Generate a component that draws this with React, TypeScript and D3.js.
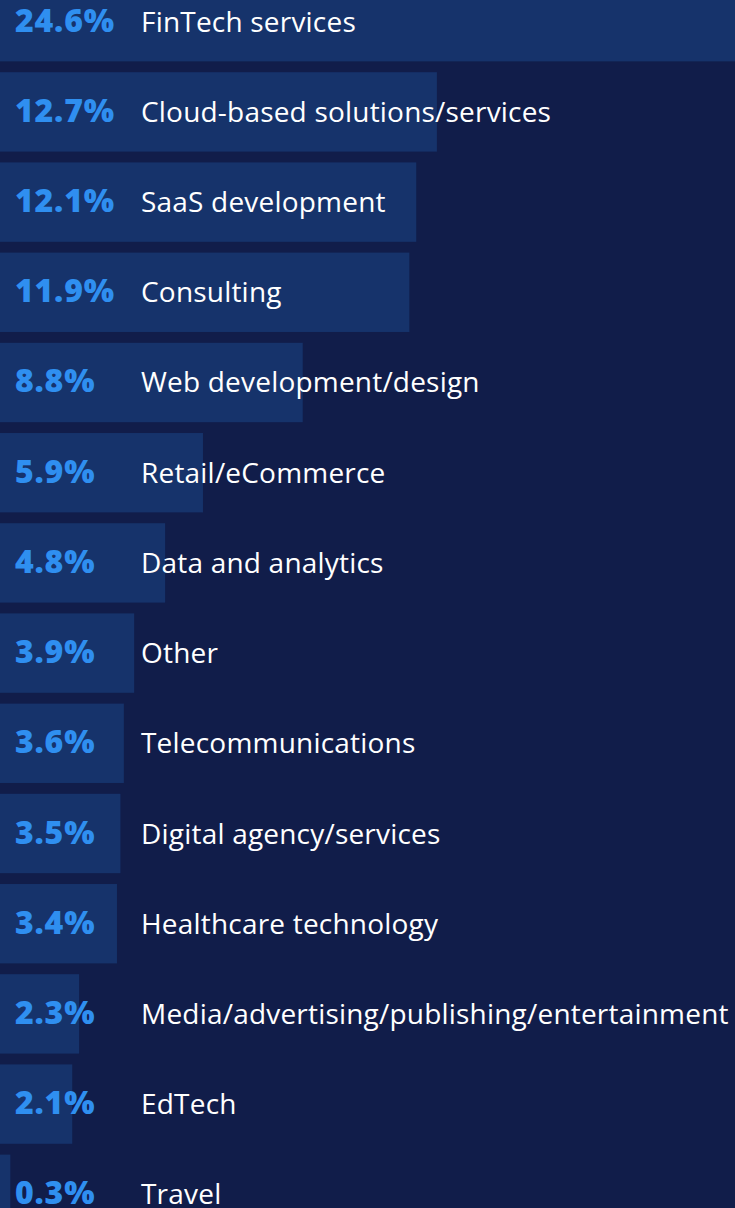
import React, { useEffect, useRef } from 'react';
import * as d3 from 'd3';

// categories and share of respondents (%)
const categories = [
  'FinTech services',
  'Cloud-based solutions/services',
  'SaaS development',
  'Consulting',
  'Web development/design',
  'Retail/eCommerce',
  'Data and analytics',
  'Other',
  'Telecommunications',
  'Digital agency/services',
  'Healthcare technology',
  'Media/advertising/publishing/entertainment',
  'EdTech',
  'Travel',
];
const shares = [24.6, 12.7, 12.1, 11.9, 8.8, 5.9, 4.8, 3.9, 3.6, 3.5, 3.4, 2.3, 2.1, 0.3];

const W = 735;
const H = 1208;

const App = () => {
  const svgRef = useRef<SVGSVGElement>(null);

  useEffect(() => {
    const svg = d3.select(svgRef.current);
    svg.selectAll('*').remove();

    const rows = categories.map((c, i) => ({ name: c, value: shares[i] }));

    const y = d3.scaleBand<string>()
      .domain(categories)
      .range([-18, 1234])
      .paddingInner(0.12)
      .paddingOuter(0);

    const x = d3.scaleLinear()
      .domain([0, 25])
      .range([0, 860]);

    svg.append('rect')
      .attr('width', W)
      .attr('height', H)
      .attr('fill', '#111d4a');

    const row = svg.selectAll('g.row')
      .data(rows)
      .enter().append('g')
      .attr('class', 'row')
      .attr('transform', d => `translate(0,${y(d.name)})`);

    row.append('rect')
      .attr('width', d => Math.min(W, x(d.value)))
      .attr('height', y.bandwidth())
      .attr('fill', '#16336b');

    const mid = y.bandwidth() / 2;

    row.append('text')
      .attr('x', 15)
      .attr('y', mid + 10)
      .attr('fill', '#2f8ff0')
      .attr('font-family', '"Open Sans", sans-serif')
      .attr('font-weight', 800)
      .attr('font-size', 32)
      .attr('letter-spacing', 0.8)
      .text(d => `${d.value}%`);

    row.append('text')
      .attr('x', 141)
      .attr('y', mid + 10)
      .attr('fill', '#ffffff')
      .attr('font-family', '"Open Sans", sans-serif')
      .attr('font-size', 28)
      .attr('letter-spacing', 0.2)
      .text(d => d.name);
  }, []);

  return (
    <svg
      ref={svgRef}
      width={W}
      height={H}
      style={{ position: 'absolute', left: 0, top: 0, display: 'block' }}
    />
  );
};

export default App;
